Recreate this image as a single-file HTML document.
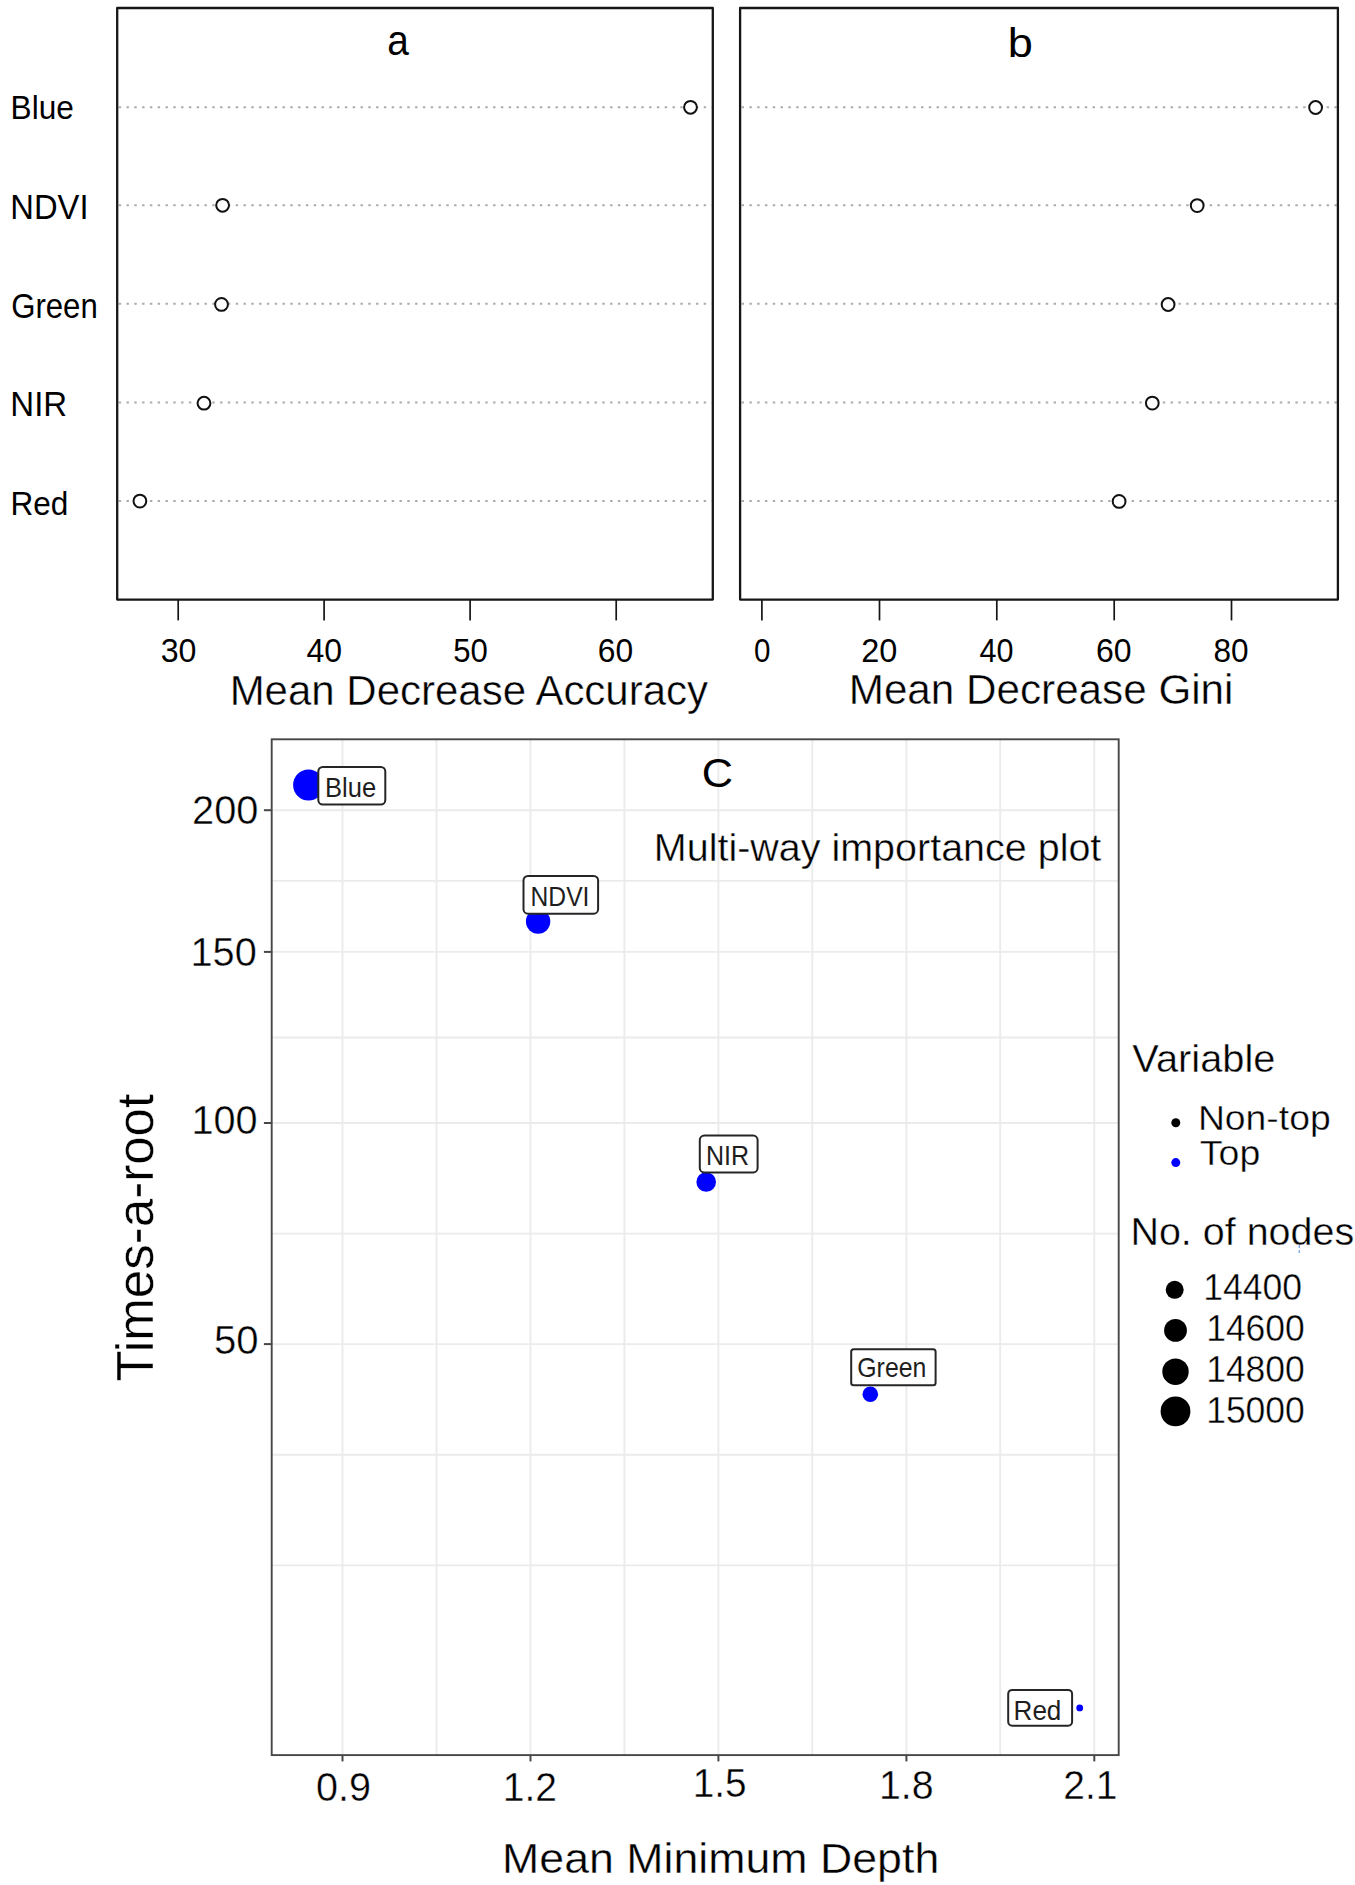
<!DOCTYPE html>
<html lang="en"><head><meta charset="utf-8"><title>Variable importance plots</title>
<style>html,body{margin:0;padding:0;background:#fff}svg{display:block}text{font-family:'Liberation Sans',sans-serif;white-space:pre}</style></head><body>
<svg width="1355" height="1885" viewBox="0 0 1355 1885">
<rect width="1355" height="1885" fill="#fff"/>
<line x1="118.7" y1="107.2" x2="711.8" y2="107.2" stroke="#ababab" stroke-width="2" stroke-dasharray="2.4 5.4" fill="none"/>
<line x1="118.7" y1="205.2" x2="711.8" y2="205.2" stroke="#ababab" stroke-width="2" stroke-dasharray="2.4 5.4" fill="none"/>
<line x1="118.7" y1="303.8" x2="711.8" y2="303.8" stroke="#ababab" stroke-width="2" stroke-dasharray="2.4 5.4" fill="none"/>
<line x1="118.7" y1="402.6" x2="711.8" y2="402.6" stroke="#ababab" stroke-width="2" stroke-dasharray="2.4 5.4" fill="none"/>
<line x1="118.7" y1="501.0" x2="711.8" y2="501.0" stroke="#ababab" stroke-width="2" stroke-dasharray="2.4 5.4" fill="none"/>
<line x1="741.6" y1="107.2" x2="1336.9" y2="107.2" stroke="#ababab" stroke-width="2" stroke-dasharray="2.4 5.4" fill="none"/>
<line x1="741.6" y1="205.2" x2="1336.9" y2="205.2" stroke="#ababab" stroke-width="2" stroke-dasharray="2.4 5.4" fill="none"/>
<line x1="741.6" y1="303.8" x2="1336.9" y2="303.8" stroke="#ababab" stroke-width="2" stroke-dasharray="2.4 5.4" fill="none"/>
<line x1="741.6" y1="402.6" x2="1336.9" y2="402.6" stroke="#ababab" stroke-width="2" stroke-dasharray="2.4 5.4" fill="none"/>
<line x1="741.6" y1="501.0" x2="1336.9" y2="501.0" stroke="#ababab" stroke-width="2" stroke-dasharray="2.4 5.4" fill="none"/>
<circle cx="690.5" cy="107.3" r="6.4" fill="#fff" stroke="#111" stroke-width="2"/>
<circle cx="222.6" cy="205.3" r="6.4" fill="#fff" stroke="#111" stroke-width="2"/>
<circle cx="221.5" cy="304.4" r="6.4" fill="#fff" stroke="#111" stroke-width="2"/>
<circle cx="204.0" cy="403.2" r="6.4" fill="#fff" stroke="#111" stroke-width="2"/>
<circle cx="139.9" cy="501.1" r="6.4" fill="#fff" stroke="#111" stroke-width="2"/>
<circle cx="1315.6" cy="107.5" r="6.4" fill="#fff" stroke="#111" stroke-width="2"/>
<circle cx="1197.2" cy="205.6" r="6.4" fill="#fff" stroke="#111" stroke-width="2"/>
<circle cx="1168.1" cy="304.5" r="6.4" fill="#fff" stroke="#111" stroke-width="2"/>
<circle cx="1152.3" cy="403.1" r="6.4" fill="#fff" stroke="#111" stroke-width="2"/>
<circle cx="1119.1" cy="501.4" r="6.4" fill="#fff" stroke="#111" stroke-width="2"/>
<rect x="117.2" y="8.0" width="595.6" height="591.6" fill="none" stroke="#161616" stroke-width="2.3" stroke-linejoin="round"/>
<rect x="740.1" y="8.0" width="597.8" height="591.6" fill="none" stroke="#161616" stroke-width="2.3" stroke-linejoin="round"/>
<line x1="178.2" y1="599.6" x2="178.2" y2="620.4" stroke="#161616" stroke-width="1.7"/>
<line x1="324.1" y1="599.6" x2="324.1" y2="620.4" stroke="#161616" stroke-width="1.7"/>
<line x1="470.1" y1="599.6" x2="470.1" y2="620.4" stroke="#161616" stroke-width="1.7"/>
<line x1="616.2" y1="599.6" x2="616.2" y2="620.4" stroke="#161616" stroke-width="1.7"/>
<line x1="761.9" y1="599.6" x2="761.9" y2="620.4" stroke="#161616" stroke-width="1.7"/>
<line x1="879.5" y1="599.6" x2="879.5" y2="620.4" stroke="#161616" stroke-width="1.7"/>
<line x1="996.8" y1="599.6" x2="996.8" y2="620.4" stroke="#161616" stroke-width="1.7"/>
<line x1="1114.2" y1="599.6" x2="1114.2" y2="620.4" stroke="#161616" stroke-width="1.7"/>
<line x1="1231.5" y1="599.6" x2="1231.5" y2="620.4" stroke="#161616" stroke-width="1.7"/>
<text transform="translate(160.69,662.07) scale(0.9605,1)" font-size="33.50" fill="#000" >30</text>
<text transform="translate(306.58,662.07) scale(0.9553,1)" font-size="33.50" fill="#000" >40</text>
<text transform="translate(453.16,662.07) scale(0.9281,1)" font-size="33.50" fill="#000" >50</text>
<text transform="translate(597.81,662.07) scale(0.9489,1)" font-size="33.50" fill="#000" >60</text>
<text transform="translate(753.92,662.07) scale(0.8815,1)" font-size="33.50" fill="#000" >0</text>
<text transform="translate(861.28,662.07) scale(0.9693,1)" font-size="33.50" fill="#000" >20</text>
<text transform="translate(979.51,662.07) scale(0.9126,1)" font-size="33.50" fill="#000" >40</text>
<text transform="translate(1096.00,662.07) scale(0.9547,1)" font-size="33.50" fill="#000" >60</text>
<text transform="translate(1213.56,662.07) scale(0.9419,1)" font-size="33.50" fill="#000" >80</text>
<text transform="translate(10.59,119.40) scale(0.9372,1)" font-size="33.75" fill="#000" >Blue</text>
<text transform="translate(10.30,218.60) scale(0.9535,1)" font-size="34.33" fill="#000" >NDVI</text>
<text transform="translate(11.14,317.70) scale(0.9122,1)" font-size="34.18" fill="#000" >Green</text>
<text transform="translate(10.28,415.80) scale(0.9581,1)" font-size="34.47" fill="#000" >NIR</text>
<text transform="translate(10.39,514.80) scale(0.9320,1)" font-size="33.89" fill="#000" >Red</text>
<text transform="translate(387.35,54.58) scale(0.9165,1)" font-size="42.37" fill="#000" >a</text>
<text transform="translate(1007.87,57.19) scale(1.0871,1)" font-size="41.50" fill="#000" >b</text>
<text transform="translate(229.64,704.90) scale(0.9920,1)" font-size="42.33" fill="#000" stroke="#fff" stroke-width="0.4" stroke-linejoin="round">Mean Decrease Accuracy</text>
<text transform="translate(848.72,703.60) scale(0.9972,1)" font-size="42.33" fill="#000" stroke="#fff" stroke-width="0.4" stroke-linejoin="round">Mean Decrease Gini</text>
<line x1="342.5" y1="739.3" x2="342.5" y2="1755.1" stroke="#ebebeb" stroke-width="1.9"/>
<line x1="436.5" y1="739.3" x2="436.5" y2="1755.1" stroke="#ebebeb" stroke-width="1.9"/>
<line x1="530.5" y1="739.3" x2="530.5" y2="1755.1" stroke="#ebebeb" stroke-width="1.9"/>
<line x1="624.4" y1="739.3" x2="624.4" y2="1755.1" stroke="#ebebeb" stroke-width="1.9"/>
<line x1="718.4" y1="739.3" x2="718.4" y2="1755.1" stroke="#ebebeb" stroke-width="1.9"/>
<line x1="812.3" y1="739.3" x2="812.3" y2="1755.1" stroke="#ebebeb" stroke-width="1.9"/>
<line x1="906.4" y1="739.3" x2="906.4" y2="1755.1" stroke="#ebebeb" stroke-width="1.9"/>
<line x1="1000.2" y1="739.3" x2="1000.2" y2="1755.1" stroke="#ebebeb" stroke-width="1.9"/>
<line x1="1094.3" y1="739.3" x2="1094.3" y2="1755.1" stroke="#ebebeb" stroke-width="1.9"/>
<line x1="271.7" y1="810.2" x2="1118.65" y2="810.2" stroke="#ebebeb" stroke-width="1.9"/>
<line x1="271.7" y1="880.9" x2="1118.65" y2="880.9" stroke="#ebebeb" stroke-width="1.9"/>
<line x1="271.7" y1="951.9" x2="1118.65" y2="951.9" stroke="#ebebeb" stroke-width="1.9"/>
<line x1="271.7" y1="1037.5" x2="1118.65" y2="1037.5" stroke="#ebebeb" stroke-width="1.9"/>
<line x1="271.7" y1="1123.0" x2="1118.65" y2="1123.0" stroke="#ebebeb" stroke-width="1.9"/>
<line x1="271.7" y1="1233.6" x2="1118.65" y2="1233.6" stroke="#ebebeb" stroke-width="1.9"/>
<line x1="271.7" y1="1344.1" x2="1118.65" y2="1344.1" stroke="#ebebeb" stroke-width="1.9"/>
<line x1="271.7" y1="1454.8" x2="1118.65" y2="1454.8" stroke="#ebebeb" stroke-width="1.9"/>
<line x1="271.7" y1="1565.4" x2="1118.65" y2="1565.4" stroke="#ebebeb" stroke-width="1.9"/>
<circle cx="308.5" cy="785.0" r="15.4" fill="#0000ff"/>
<circle cx="538.1" cy="921.5" r="12.2" fill="#0000ff"/>
<circle cx="706.2" cy="1182.0" r="9.8" fill="#0000ff"/>
<circle cx="870.3" cy="1394.3" r="7.8" fill="#0000ff"/>
<circle cx="1079.7" cy="1707.9" r="3.4" fill="#0000ff"/>
<rect x="318.3" y="767.0" width="67.0" height="37.5" rx="4.5" ry="4.5" fill="#fff" stroke="#262626" stroke-width="2"/>
<text transform="translate(325.09,797.20) scale(0.9497,1)" font-size="26.90" fill="#1e1e1e" >Blue</text>
<rect x="523.5" y="876.0" width="74.6" height="37.7" rx="4.5" ry="4.5" fill="#fff" stroke="#262626" stroke-width="2"/>
<text transform="translate(530.57,905.80) scale(0.9164,1)" font-size="26.90" fill="#1e1e1e" >NDVI</text>
<rect x="699.8" y="1135.6" width="57.8" height="36.8" rx="4.5" ry="4.5" fill="#fff" stroke="#262626" stroke-width="2"/>
<text transform="translate(705.93,1165.20) scale(0.9314,1)" font-size="26.90" fill="#1e1e1e" >NIR</text>
<rect x="851.2" y="1349.2" width="84.4" height="36.1" rx="2.5" ry="2.5" fill="#fff" stroke="#262626" stroke-width="2"/>
<text transform="translate(857.26,1377.40) scale(0.9248,1)" font-size="26.90" fill="#1e1e1e" >Green</text>
<rect x="1008.2" y="1689.9" width="63.9" height="35.8" rx="4.0" ry="4.0" fill="#fff" stroke="#262626" stroke-width="2"/>
<text transform="translate(1013.55,1719.90) scale(0.9693,1)" font-size="26.90" fill="#1e1e1e" >Red</text>
<rect x="271.7" y="739.3" width="847.0" height="1015.8" fill="none" stroke="#474747" stroke-width="1.9"/>
<line x1="263.9" y1="810.2" x2="271.7" y2="810.2" stroke="#474747" stroke-width="2"/>
<line x1="263.9" y1="951.9" x2="271.7" y2="951.9" stroke="#474747" stroke-width="2"/>
<line x1="263.9" y1="1123.0" x2="271.7" y2="1123.0" stroke="#474747" stroke-width="2"/>
<line x1="263.9" y1="1344.1" x2="271.7" y2="1344.1" stroke="#474747" stroke-width="2"/>
<line x1="342.5" y1="1755.1" x2="342.5" y2="1761.3999999999999" stroke="#474747" stroke-width="2"/>
<line x1="530.5" y1="1755.1" x2="530.5" y2="1761.3999999999999" stroke="#474747" stroke-width="2"/>
<line x1="718.4" y1="1755.1" x2="718.4" y2="1761.3999999999999" stroke="#474747" stroke-width="2"/>
<line x1="906.4" y1="1755.1" x2="906.4" y2="1761.3999999999999" stroke="#474747" stroke-width="2"/>
<line x1="1094.3" y1="1755.1" x2="1094.3" y2="1761.3999999999999" stroke="#474747" stroke-width="2"/>
<text transform="translate(192.11,824.09) scale(0.9764,1)" font-size="40.71" fill="#000" stroke="#fff" stroke-width="0.4" stroke-linejoin="round">200</text>
<text transform="translate(190.52,966.39) scale(0.9781,1)" font-size="40.57" fill="#000" stroke="#fff" stroke-width="0.4" stroke-linejoin="round">150</text>
<text transform="translate(191.43,1134.09) scale(0.9732,1)" font-size="40.71" fill="#000" stroke="#fff" stroke-width="0.4" stroke-linejoin="round">100</text>
<text transform="translate(213.90,1353.89) scale(0.9850,1)" font-size="40.71" fill="#000" stroke="#fff" stroke-width="0.4" stroke-linejoin="round">50</text>
<text transform="translate(315.92,1800.79) scale(0.9699,1)" font-size="40.85" fill="#000" stroke="#fff" stroke-width="0.4" stroke-linejoin="round">0.9</text>
<text transform="translate(502.77,1800.70) scale(0.9591,1)" font-size="40.72" fill="#000" stroke="#fff" stroke-width="0.4" stroke-linejoin="round">1.2</text>
<text transform="translate(692.79,1796.89) scale(0.9449,1)" font-size="41.00" fill="#000" stroke="#fff" stroke-width="0.4" stroke-linejoin="round">1.5</text>
<text transform="translate(878.95,1798.89) scale(0.9619,1)" font-size="40.85" fill="#000" stroke="#fff" stroke-width="0.4" stroke-linejoin="round">1.8</text>
<text transform="translate(1063.35,1798.80) scale(0.9577,1)" font-size="40.72" fill="#000" stroke="#fff" stroke-width="0.4" stroke-linejoin="round">2.1</text>
<text transform="translate(502.11,1872.90) scale(1.0491,1)" font-size="42.62" fill="#000" stroke="#fff" stroke-width="0.4" stroke-linejoin="round">Mean Minimum Depth</text>
<text transform="rotate(-90) translate(-1381.55,152.90) scale(1.0014,1)" font-size="51.05" fill="#000" stroke="#fff" stroke-width="0.4" stroke-linejoin="round">Times-a-root</text>
<text transform="translate(701.83,787.39) scale(1.0639,1)" font-size="40.71" fill="#000" >C</text>
<text transform="translate(653.84,861.00) scale(1.0203,1)" font-size="38.69" fill="#000" stroke="#fff" stroke-width="0.4" stroke-linejoin="round">Multi-way importance plot</text>
<text transform="translate(1132.30,1071.60) scale(1.0142,1)" font-size="39.27" fill="#000" stroke="#fff" stroke-width="0.4" stroke-linejoin="round">Variable</text>
<circle cx="1175.8" cy="1122.7" r="4.5" fill="#000"/>
<circle cx="1175.8" cy="1162.6" r="4.5" fill="#0000ff"/>
<text transform="translate(1197.92,1130.00) scale(1.0603,1)" font-size="35.20" fill="#000" stroke="#fff" stroke-width="0.4" stroke-linejoin="round">Non-top</text>
<text transform="translate(1199.86,1164.90) scale(1.0736,1)" font-size="34.91" fill="#000" stroke="#fff" stroke-width="0.4" stroke-linejoin="round">Top</text>
<text transform="translate(1130.44,1244.90) scale(1.0199,1)" font-size="38.69" fill="#000" stroke="#fff" stroke-width="0.4" stroke-linejoin="round">No. of nodes</text>
<line x1="1299.3" y1="1245" x2="1299.3" y2="1255" stroke="#6f9fe6" stroke-width="1.2" stroke-dasharray="3 2"/>
<circle cx="1174.7" cy="1289.8" r="9.0" fill="#000"/>
<circle cx="1175.5" cy="1330.4" r="11.4" fill="#000"/>
<circle cx="1175.5" cy="1371.7" r="13.2" fill="#000"/>
<circle cx="1175.5" cy="1411.4" r="14.9" fill="#000"/>
<text transform="translate(1203.33,1300.23) scale(0.9671,1)" font-size="36.75" fill="#000" stroke="#fff" stroke-width="0.4" stroke-linejoin="round">14400</text>
<text transform="translate(1206.14,1341.34) scale(0.9773,1)" font-size="36.33" fill="#000" stroke="#fff" stroke-width="0.4" stroke-linejoin="round">14600</text>
<text transform="translate(1206.14,1381.94) scale(0.9773,1)" font-size="36.33" fill="#000" stroke="#fff" stroke-width="0.4" stroke-linejoin="round">14800</text>
<text transform="translate(1206.14,1423.34) scale(0.9773,1)" font-size="36.33" fill="#000" stroke="#fff" stroke-width="0.4" stroke-linejoin="round">15000</text>
</svg></body></html>
